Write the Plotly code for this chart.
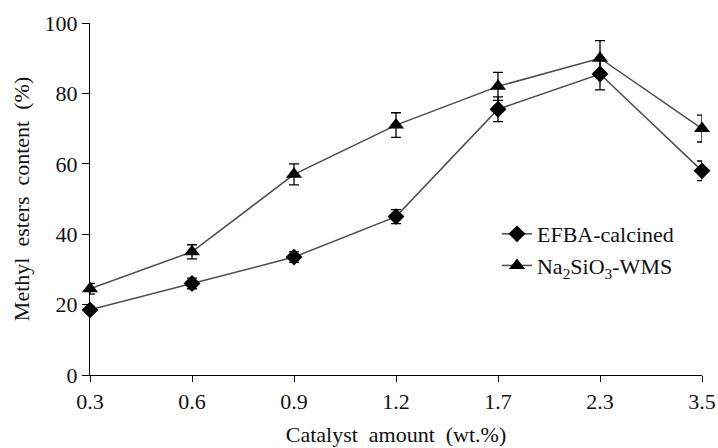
import plotly.graph_objects as go

categories = ["0.3", "0.6", "0.9", "1.2", "1.7", "2.3", "3.5"]
efba = [18.5, 26, 33.5, 45, 75.5, 85.5, 58]
efba_err = [1.0, 1.5, 1.5, 2.0, 3.5, 4.5, 2.8]
na = [24.5, 35, 57, 71, 82, 90, 70]
na_err = [1.5, 2.0, 3.0, 3.5, 4.0, 5.0, 3.8]
yticks = [0, 20, 40, 60, 80, 100]

xpos = list(range(len(categories)))
font = "Liberation Serif, Times New Roman, serif"

fig = go.Figure()
fig.add_trace(go.Scatter(
    x=xpos, y=efba, name="EFBA-calcined", mode="lines+markers",
    line=dict(color="#4a4a4a", width=1.5),
    marker=dict(symbol="diamond", size=13, color="black"),
    error_y=dict(type="data", array=efba_err, color="black", thickness=1.3, width=5),
    cliponaxis=False,
))
fig.add_trace(go.Scatter(
    x=xpos, y=na, name="Na<sub>2</sub>SiO<sub>3</sub>-WMS", mode="lines+markers",
    line=dict(color="#4a4a4a", width=1.5),
    marker=dict(symbol="triangle-up", size=14, color="black"),
    error_y=dict(type="data", array=na_err, color="black", thickness=1.3, width=5),
    cliponaxis=False,
))

fig.update_layout(
    width=718, height=448,
    margin=dict(l=90, r=16, t=23, b=73, autoexpand=False),
    plot_bgcolor="white", paper_bgcolor="white",
    font=dict(family=font, color="#111111", size=22),
    showlegend=True,
    legend=dict(x=0.665, y=0.355, xanchor="left", yanchor="middle",
                bgcolor="rgba(0,0,0,0)", font=dict(size=22), tracegroupgap=0),
    xaxis=dict(
        range=[0, 6], tickmode="array", tickvals=xpos, ticktext=categories,
        showline=True, linecolor="black", linewidth=1.3,
        ticks="outside", ticklen=6, tickcolor="black",
        showgrid=False, zeroline=False, ticklabeloverflow="allow",
        automargin=False,
        tickfont=dict(size=22),
        title=dict(text="Catalyst  amount  (wt.%)", font=dict(size=22), standoff=14),
    ),
    yaxis=dict(
        range=[0, 100], tickmode="array", tickvals=yticks,
        showline=True, linecolor="black", linewidth=1.3,
        ticks="outside", ticklen=7, tickcolor="black",
        showgrid=False, zeroline=False, automargin=False,
        tickfont=dict(size=22),
        title=dict(text="Methyl  esters  content  (%)", font=dict(size=22), standoff=8),
    ),
)

fig.write_html("out.html")
